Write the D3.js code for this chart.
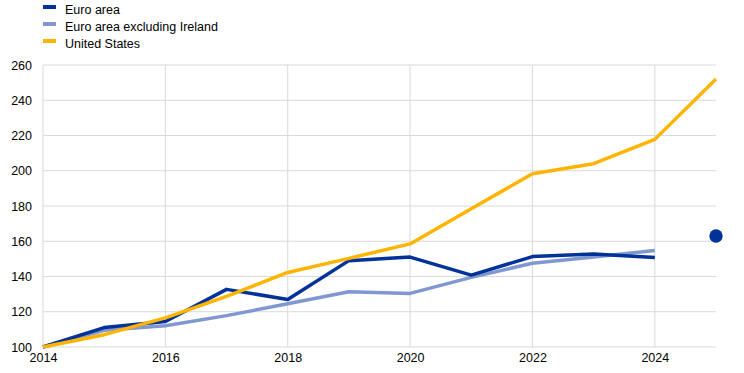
<html>
<head>
<script src="https://d3js.org/d3.v7.min.js"></script>
<style>
  body { margin: 0; background: #fff; }
  text { font-family: Arial, "Liberation Sans", sans-serif; fill: #000; }
</style>
</head>
<body>
<div id="chart"></div>
<script>
// data
const years = [2014, 2015, 2016, 2017, 2018, 2019, 2020, 2021, 2022, 2023, 2024, 2025];
const euroArea = [100, 111, 114.5, 132.7, 127, 149, 151, 140.8, 151.3, 152.8, 150.8];
const euroExIreland = [100, 109.5, 112, 117.8, 124.5, 131.3, 130.4, 139.5, 147.5, 151, 154.8];
const unitedStates = [100, 107, 116.5, 128.7, 142.3, 150.3, 158.5, 178.4, 198.3, 204, 217.8, 252];
const euroAreaPoint = { year: 2025, value: 163 };
const yTicks = [100, 120, 140, 160, 180, 200, 220, 240, 260];
const xTicks = [2014, 2016, 2018, 2020, 2022, 2024];

const series = [
  { name: "Euro area", values: euroArea, color: "#003299" },
  { name: "Euro area excluding Ireland", values: euroExIreland, color: "#8097d1" },
  { name: "United States", values: unitedStates, color: "#ffb400" }
];

const W = 744, H = 373;
const margin = { top: 65, right: 28, bottom: 26, left: 43 };
const width = W - margin.left - margin.right,
      height = H - margin.top - margin.bottom;

const svg = d3.select("#chart").append("svg")
  .attr("width", W).attr("height", H);

const g = svg.append("g")
  .attr("transform", "translate(" + margin.left + "," + margin.top + ")");

const x = d3.scaleLinear().domain([2014, 2025]).range([0, width]);
const y = d3.scaleLinear().domain([100, 260]).range([height, 0]);

// horizontal grid
g.selectAll(".hgrid").data(yTicks).enter().append("line")
  .attr("x1", 0).attr("x2", width)
  .attr("y1", d => y(d)).attr("y2", d => y(d))
  .attr("stroke", "#d9d9d9").attr("stroke-width", 1);

// vertical grid
g.selectAll(".vgrid").data(xTicks).enter().append("line")
  .attr("x1", d => x(d)).attr("x2", d => x(d))
  .attr("y1", 0).attr("y2", height)
  .attr("stroke", "#d9d9d9").attr("stroke-width", 1);

// y axis labels
const yAxis = g.append("g")
  .call(d3.axisLeft(y).tickValues(yTicks).tickSize(0).tickPadding(11));
yAxis.select(".domain").remove();
yAxis.selectAll("text").style("font-size", "12.5px").attr("fill", "#000");

// x axis labels
const xAxis = g.append("g")
  .attr("transform", "translate(0," + height + ")")
  .call(d3.axisBottom(x).tickValues(xTicks).tickFormat(d3.format("d")).tickSize(0).tickPadding(6));
xAxis.select(".domain").remove();
xAxis.selectAll("text").style("font-size", "12.5px").attr("fill", "#000");

const line = d3.line()
  .x((d, i) => x(years[i]))
  .y(d => y(d));

// draw light blue first, then dark blue, then US on top
[series[1], series[0], series[2]].forEach(s => {
  g.append("path")
    .datum(s.values)
    .attr("d", line)
    .attr("fill", "none")
    .attr("stroke", s.color)
    .attr("stroke-width", 3.5)
    .attr("stroke-linejoin", "round");
});

g.append("circle")
  .attr("cx", x(euroAreaPoint.year))
  .attr("cy", y(euroAreaPoint.value))
  .attr("r", 6.7)
  .attr("fill", "#003299");

// legend
const legend = svg.append("g").attr("transform", "translate(43,0)");
series.forEach((s, i) => {
  const ly = 10 + i * 17;
  legend.append("rect")
    .attr("x", 0).attr("y", ly - 5)
    .attr("width", 13).attr("height", 4)
    .attr("fill", s.color);
  legend.append("text")
    .attr("x", 22).attr("y", ly)
    .attr("dy", "0.35em")
    .style("font-size", "12.5px")
    .text(s.name);
});
</script>
</body>
</html>
